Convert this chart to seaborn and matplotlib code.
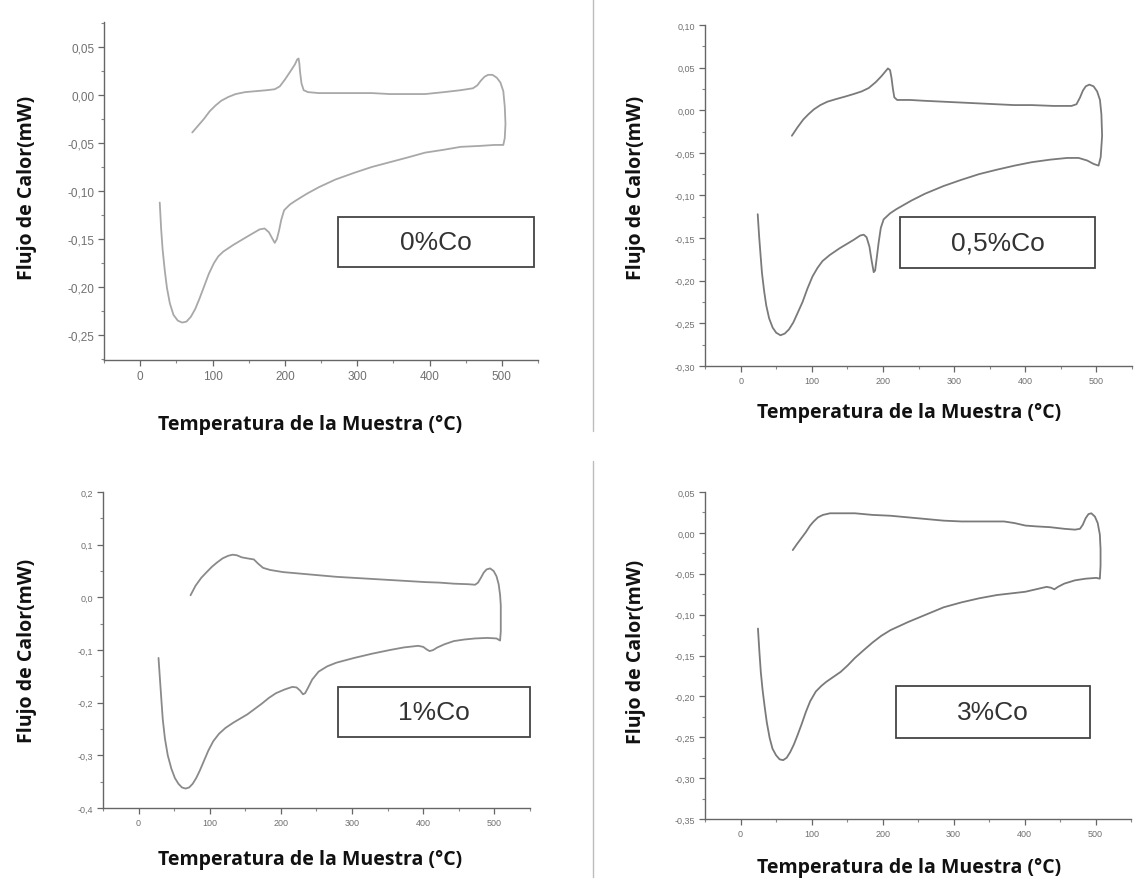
import numpy as np
import pandas as pd
import seaborn as sns
import matplotlib
matplotlib.use('Agg')
from matplotlib import pyplot as plt
from matplotlib.patches import Rectangle
from matplotlib.lines import Line2D
from matplotlib.ticker import FuncFormatter, MultipleLocator

# DSC curves, read along the loop (heating, then cooling back)
t_0co = [27, 29, 31, 34, 37, 41, 46, 52, 58, 64, 70, 76, 82, 88, 95, 102, 108, 115, 129, 149,
         165, 172, 178, 183, 186, 189, 192, 195, 199, 207, 215, 230, 247, 270, 296, 320, 345,
         370, 394, 420, 443, 470, 490, 502, 504, 505, 504, 502, 498, 493, 487, 481, 476, 471,
         466, 460, 443, 420, 394, 370, 345, 320, 296, 270, 247, 232, 226, 223, 221, 220, 219,
         217, 214, 208, 200, 193, 186, 175, 160, 145, 132, 122, 112, 104, 96, 88, 80, 72]
q_0co = [-0.112, -0.140, -0.161, -0.183, -0.201, -0.217, -0.229, -0.235, -0.237, -0.236, -0.231,
         -0.223, -0.212, -0.200, -0.186, -0.175, -0.168, -0.163, -0.156, -0.147, -0.140, -0.139,
         -0.143, -0.150, -0.154, -0.150, -0.141, -0.130, -0.120, -0.114, -0.110, -0.103, -0.096,
         -0.088, -0.081, -0.075, -0.070, -0.065, -0.060, -0.057, -0.054, -0.053, -0.052, -0.052,
         -0.045, -0.030, -0.012, 0.004, 0.013, 0.018, 0.021, 0.021, 0.019, 0.015, 0.010, 0.007,
         0.005, 0.003, 0.001, 0.001, 0.001, 0.002, 0.002, 0.002, 0.002, 0.003, 0.005, 0.012,
         0.024, 0.033, 0.038, 0.037, 0.032, 0.025, 0.016, 0.009, 0.006, 0.005, 0.004, 0.003,
         0.001, -0.002, -0.006, -0.011, -0.017, -0.025, -0.032, -0.039]

t_05co = [24, 26, 28, 30, 33, 36, 40, 45, 50, 56, 62, 68, 74, 80, 87, 94, 101, 108, 115, 125,
          139, 159, 168, 173, 177, 181, 184, 187, 189, 191, 194, 197, 201, 210, 219, 240, 259,
          285, 309, 335, 359, 385, 409, 435, 459, 475, 487, 496, 503, 506, 508, 507, 505, 501,
          496, 490, 485, 481, 477, 472, 465, 440, 409, 384, 359, 334, 309, 284, 259, 238, 220,
          216, 214, 212, 210, 207, 204, 198, 190, 180, 170, 159, 147, 134, 122, 112, 103, 95,
          88, 80, 72]
q_05co = [-0.122, -0.148, -0.170, -0.191, -0.212, -0.229, -0.244, -0.255, -0.261, -0.264, -0.262,
          -0.257, -0.249, -0.238, -0.225, -0.209, -0.195, -0.185, -0.177, -0.170, -0.162, -0.152,
          -0.147, -0.146, -0.149, -0.160, -0.176, -0.190, -0.188, -0.175, -0.155, -0.138, -0.128,
          -0.121, -0.116, -0.106, -0.098, -0.089, -0.082, -0.075, -0.070, -0.065, -0.061, -0.058,
          -0.056, -0.056, -0.059, -0.063, -0.065, -0.055, -0.030, -0.005, 0.012, 0.022, 0.028,
          0.030, 0.028, 0.023, 0.015, 0.007, 0.005, 0.005, 0.006, 0.006, 0.007, 0.008, 0.009,
          0.010, 0.011, 0.012, 0.012, 0.015, 0.025, 0.038, 0.047, 0.049, 0.046, 0.040, 0.033,
          0.026, 0.022, 0.019, 0.016, 0.013, 0.010, 0.006, 0.001, -0.005, -0.011, -0.020, -0.030]

t_1co = [28, 30, 32, 34, 37, 41, 46, 51, 56, 61, 66, 71, 76, 81, 86, 92, 98, 105, 113, 122, 133,
         143, 153, 163, 173, 183, 193, 205, 216, 222, 227, 231, 234, 238, 244, 253, 265, 278,
         303, 328, 353, 373, 393, 400, 405, 409, 414, 420, 430, 443, 458, 473, 490, 503, 508,
         509, 509, 509, 508, 506, 503, 499, 494, 489, 485, 481, 477, 473, 463, 443, 423, 403,
         378, 353, 328, 303, 278, 253, 228, 203, 185, 175, 168, 162, 153, 145, 138, 132, 126,
         118, 110, 103, 95, 88, 80, 73]
q_1co = [-0.115, -0.155, -0.194, -0.232, -0.268, -0.300, -0.325, -0.343, -0.354, -0.361, -0.363,
         -0.361, -0.354, -0.343, -0.329, -0.310, -0.291, -0.273, -0.259, -0.248, -0.238, -0.230,
         -0.222, -0.212, -0.202, -0.191, -0.182, -0.175, -0.170, -0.171, -0.177, -0.184, -0.182,
         -0.172, -0.156, -0.141, -0.131, -0.124, -0.115, -0.107, -0.100, -0.095, -0.092, -0.094,
         -0.099, -0.102, -0.100, -0.095, -0.089, -0.083, -0.080, -0.078, -0.077, -0.078, -0.082,
         -0.065, -0.040, -0.015, 0.005, 0.025, 0.040, 0.050, 0.055, 0.053, 0.047, 0.037, 0.028,
         0.024, 0.025, 0.026, 0.028, 0.029, 0.031, 0.033, 0.035, 0.037, 0.039, 0.042, 0.045,
         0.048, 0.052, 0.056, 0.064, 0.072, 0.074, 0.076, 0.080, 0.081, 0.079, 0.074, 0.066,
         0.058, 0.047, 0.037, 0.022, 0.004]

t_3co = [24.5, 26.5, 28.5, 31, 34, 37, 41, 45, 50, 55, 60, 65, 70, 75, 80, 86, 92, 98, 106, 114,
         121, 131, 141, 151, 161, 174, 186, 198, 211, 236, 261, 286, 311, 336, 361, 381, 401,
         416, 431, 437, 442, 447, 456, 471, 486, 501, 506, 507, 507, 506, 503, 499, 494, 490,
         486, 482, 478, 471, 456, 436, 416, 401, 386, 371, 361, 336, 311, 286, 261, 236, 211,
         186, 161, 141, 126, 116, 109, 103, 98, 92, 86, 80, 73.5]
q_3co = [-0.117, -0.145, -0.170, -0.192, -0.213, -0.232, -0.251, -0.264, -0.272, -0.277, -0.278,
         -0.275, -0.268, -0.259, -0.248, -0.234, -0.219, -0.206, -0.194, -0.187, -0.182, -0.176,
         -0.170, -0.162, -0.153, -0.143, -0.134, -0.126, -0.119, -0.109, -0.100, -0.091, -0.085,
         -0.080, -0.076, -0.074, -0.072, -0.069, -0.066, -0.067, -0.069, -0.066, -0.062, -0.058,
         -0.056, -0.055, -0.056, -0.040, -0.020, -0.002, 0.012, 0.020, 0.024, 0.023, 0.018,
         0.010, 0.005, 0.004, 0.005, 0.007, 0.008, 0.009, 0.012, 0.014, 0.014, 0.014, 0.014,
         0.015, 0.017, 0.019, 0.021, 0.022, 0.024, 0.024, 0.024, 0.022, 0.019, 0.014, 0.009,
         0.001, -0.006, -0.013, -0.021]

etiquetas = ['0%Co', '0,5%Co', '1%Co', '3%Co']

sns.set_theme(style='ticks')
plt.rcParams['font.family'] = ['Liberation Sans', 'DejaVu Sans']

fig = plt.figure(figsize=(11.37, 8.79), dpi=100)

paneles = [
    # t, q, ax rect, ylim, ytick step, ytick fmt, curve colour, box, ylabel (x, y), xlabel pos, tick font
    (t_0co, q_0co, [0.0915, 0.5893, 0.3817, 0.3845], (-0.276, 0.076), 0.05, '{:.2f}', '#a8a8a8',
     (0.539, 0.275, 0.452, 0.148), (-0.178, 0.512), (0.475, -0.19), 8.5),
    (t_05co, q_05co, [0.6201, 0.5825, 0.3755, 0.388], (-0.30, 0.10), 0.05, '{:.2f}', '#7a7a7a',
     (0.457, 0.287, 0.456, 0.150), (-0.162, 0.525), (0.477, -0.135), 6.5),
    (t_1co, q_1co, [0.0906, 0.0796, 0.3755, 0.3595], (-0.4, 0.2), 0.1, '{:.1f}', '#8a8a8a',
     (0.55, 0.225, 0.45, 0.158), (-0.178, 0.5), (0.485, -0.161), 6.5),
    (t_3co, q_3co, [0.6201, 0.0671, 0.3747, 0.372], (-0.35, 0.05), 0.05, '{:.2f}', '#7a7a7a',
     (0.448, 0.248, 0.456, 0.159), (-0.162, 0.514), (0.479, -0.147), 6.5),
]

for (t, q, rect, ylim, ystep, yfmt, color, box, ylab_pos, xlab_pos, tfs), etiqueta in zip(paneles, etiquetas):
    ax = fig.add_axes(rect)
    df = pd.DataFrame({'T': t, 'Q': q})
    sns.lineplot(data=df, x='T', y='Q', sort=False, estimator=None, color=color,
                 linewidth=1.3, solid_joinstyle='round', ax=ax)
    ax.set_xlim(-50, 550)
    ax.set_ylim(*ylim)
    ax.xaxis.set_major_locator(MultipleLocator(100))
    ax.xaxis.set_minor_locator(MultipleLocator(50))
    ax.yaxis.set_major_locator(MultipleLocator(ystep))
    ax.yaxis.set_minor_locator(MultipleLocator(ystep / 2))
    ax.yaxis.set_major_formatter(FuncFormatter(
        lambda v, p, f=yfmt: f.format(v + 0.0).replace('.', ',')))
    ax.tick_params(which='major', direction='out', length=4, width=0.9, color='#666666',
                   labelcolor='#707070', labelsize=tfs, pad=3)
    ax.tick_params(which='minor', direction='out', length=2, width=0.8, color='#888888')
    sns.despine(ax=ax)
    for s in ['left', 'bottom']:
        ax.spines[s].set_color('#666666')
        ax.spines[s].set_linewidth(1.0)

    ax.set_ylabel('Flujo de Calor(mW)', fontsize=14, fontweight='bold', color='#111111',
                  family=['Open Sans', 'DejaVu Sans'])
    ax.set_xlabel('Temperatura de la Muestra (°C)', fontsize=14, fontweight='bold',
                  color='#111111', family=['Open Sans', 'DejaVu Sans'])
    ax.yaxis.set_label_coords(*ylab_pos)
    ax.yaxis.label.set_va('center')
    ax.xaxis.set_label_coords(*xlab_pos)
    ax.xaxis.label.set_va('center')

    bx, by, bw, bh = box
    ax.add_patch(Rectangle((bx, by), bw, bh, transform=ax.transAxes, fill=False,
                           edgecolor='#444444', linewidth=1.3, clip_on=False))
    ax.text(bx + bw / 2, by + bh / 2, etiqueta, transform=ax.transAxes, ha='center',
            va='center', fontsize=19, color='#333333')

# thin grey separators between the panels
fig.add_artist(Line2D([593 / 1137, 593 / 1137], [1.0, 1 - 432 / 879], color='#bdbdbd', linewidth=1))
fig.add_artist(Line2D([593 / 1137, 593 / 1137], [1 - 462 / 879, 0.0], color='#bdbdbd', linewidth=1))

plt.savefig('out.png', dpi=100)
